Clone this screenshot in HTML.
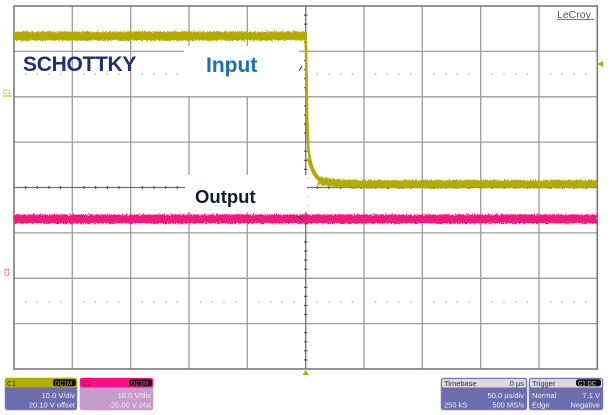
<!DOCTYPE html>
<html><head><meta charset="utf-8"><style>
html,body{margin:0;padding:0;background:#fff;}
svg{display:block;}
text{font-family:"Liberation Sans",Arial,sans-serif;}
</style></head><body>
<svg width="610" height="415" viewBox="0 0 610 415" xmlns="http://www.w3.org/2000/svg">
<defs>
<filter id="nz" filterUnits="userSpaceOnUse" x="0" y="0" width="610" height="415">
<feTurbulence type="fractalNoise" baseFrequency="0.9 0.6" numOctaves="2" seed="3" result="t"/>
<feDisplacementMap in="SourceGraphic" in2="t" scale="5" xChannelSelector="R" yChannelSelector="G"/>
</filter>
</defs>
<rect width="610" height="415" fill="#fff"/>
<!-- grid -->
<g stroke="#9c9c9c" stroke-width="1.3" fill="none">
<line x1="72.3" y1="6" x2="72.3" y2="369"/>
<line x1="130.7" y1="6" x2="130.7" y2="369"/>
<line x1="189" y1="6" x2="189" y2="369"/>
<line x1="247.3" y1="6" x2="247.3" y2="369"/>
<line x1="364" y1="6" x2="364" y2="369"/>
<line x1="422.3" y1="6" x2="422.3" y2="369"/>
<line x1="480.7" y1="6" x2="480.7" y2="369"/>
<line x1="539" y1="6" x2="539" y2="369"/>
<line x1="14" y1="51.4" x2="597" y2="51.4"/>
<line x1="14" y1="96.8" x2="597" y2="96.8"/>
<line x1="14" y1="142.1" x2="597" y2="142.1"/>
<line x1="14" y1="232.9" x2="597" y2="232.9"/>
<line x1="14" y1="278.3" x2="597" y2="278.3"/>
<line x1="14" y1="323.6" x2="597" y2="323.6"/>
</g>
<!-- center axes -->
<g stroke="#707070" stroke-width="1.3" fill="none">
<line x1="14" y1="187.5" x2="597" y2="187.5"/>
<line x1="305.7" y1="6" x2="305.7" y2="369"/>
</g>
<g stroke="#555" stroke-width="1.2">
<path d="M25.7,186v3M37.3,186v3M49,186v3M60.6,186v3M84,186v3M95.6,186v3M107.3,186v3M119,186v3M142.3,186v3M154,186v3M165.7,186v3M177.3,186v3M200.7,186v3M212.3,186v3M224,186v3M235.7,186v3M259,186v3M270.7,186v3M282.3,186v3M294,186v3M317.3,186v3M329,186v3M340.7,186v3M352.3,186v3M375.7,186v3M387.3,186v3M399,186v3M410.7,186v3M434,186v3M445.7,186v3M457.3,186v3M469,186v3M492.3,186v3M504,186v3M515.7,186v3M527.3,186v3M550.7,186v3M562.3,186v3M574,186v3M585.7,186v3"/>
<path d="M304,15.1h3.4M304,24.2h3.4M304,33.2h3.4M304,42.3h3.4M304,60.5h3.4M304,69.6h3.4M304,78.6h3.4M304,87.7h3.4M304,105.9h3.4M304,115h3.4M304,124h3.4M304,133.1h3.4M304,151.2h3.4M304,160.3h3.4M304,169.4h3.4M304,178.4h3.4M304,196.6h3.4M304,205.7h3.4M304,214.8h3.4M304,223.8h3.4M304,242h3.4M304,251h3.4M304,260.1h3.4M304,269.2h3.4M304,287.3h3.4M304,296.4h3.4M304,305.5h3.4M304,314.5h3.4M304,332.7h3.4M304,341.8h3.4M304,350.8h3.4M304,359.9h3.4"/>
</g>
<!-- dotted rows -->
<g fill="#b0b0b0">
<g id="dr">
<circle cx="25.7" cy="74" r="0.8"/><circle cx="37.3" cy="74" r="0.8"/><circle cx="49" cy="74" r="0.8"/><circle cx="60.6" cy="74" r="0.8"/>
<circle cx="84" cy="74" r="0.8"/><circle cx="95.6" cy="74" r="0.8"/><circle cx="107.3" cy="74" r="0.8"/><circle cx="119" cy="74" r="0.8"/>
<circle cx="142.3" cy="74" r="0.8"/><circle cx="154" cy="74" r="0.8"/><circle cx="165.7" cy="74" r="0.8"/><circle cx="177.3" cy="74" r="0.8"/>
<circle cx="200.7" cy="74" r="0.8"/><circle cx="212.3" cy="74" r="0.8"/><circle cx="224" cy="74" r="0.8"/><circle cx="235.7" cy="74" r="0.8"/>
<circle cx="259" cy="74" r="0.8"/><circle cx="270.7" cy="74" r="0.8"/><circle cx="282.3" cy="74" r="0.8"/><circle cx="294" cy="74" r="0.8"/>
<circle cx="317.3" cy="74" r="0.8"/><circle cx="329" cy="74" r="0.8"/><circle cx="340.7" cy="74" r="0.8"/><circle cx="352.3" cy="74" r="0.8"/>
<circle cx="375.7" cy="74" r="0.8"/><circle cx="387.3" cy="74" r="0.8"/><circle cx="399" cy="74" r="0.8"/><circle cx="410.7" cy="74" r="0.8"/>
<circle cx="434" cy="74" r="0.8"/><circle cx="445.7" cy="74" r="0.8"/><circle cx="457.3" cy="74" r="0.8"/><circle cx="469" cy="74" r="0.8"/>
<circle cx="492.3" cy="74" r="0.8"/><circle cx="504" cy="74" r="0.8"/><circle cx="515.7" cy="74" r="0.8"/><circle cx="527.3" cy="74" r="0.8"/>
<circle cx="550.7" cy="74" r="0.8"/><circle cx="562.3" cy="74" r="0.8"/><circle cx="574" cy="74" r="0.8"/><circle cx="585.7" cy="74" r="0.8"/>
</g>
<use href="#dr" transform="translate(0,228)"/>
</g>
<!-- white label boxes -->
<rect x="184" y="46" width="115" height="50" fill="#fff"/>
<rect x="185" y="175" width="122" height="37" fill="#fff"/>
<!-- border -->
<rect x="14" y="6" width="583.3" height="363" fill="none" stroke="#7a7a7a" stroke-width="1.6"/>
<!-- yellow waveform -->
<g fill="none" stroke="#b3ab00" filter="url(#nz)">
<path d="M14,36 L305.5,36" stroke-width="9"/>
<path d="M318,180.5 C330,183 345,184 365,184 L597,184" stroke-width="8"/>
</g>
<path d="M305.5,32 L306.2,60 L307.2,120 L308.5,150 C310,163 313,172 318,178 C322,181 326,182 332,183" fill="none" stroke="#b3ab00" stroke-width="2.6"/>
<path d="M309,158 C311,168 314,175 320,180" fill="none" stroke="#b3ab00" stroke-width="4"/>
<!-- pink waveform -->
<path d="M14,219 L597,219" fill="none" stroke="#f5137f" stroke-width="9" filter="url(#nz)"/>
<!-- trigger level marks -->
<path d="M299,71 L302,66" stroke="#333" stroke-width="1"/>
<path d="M297,216 L303,220" stroke="#333" stroke-width="1"/>
<!-- markers -->
<polygon points="597,64 603,61 603,67" fill="#b3ab00"/>
<polygon points="305.7,370 302.5,375 309,375" fill="#b3ab00"/>
<text x="3" y="94" font-size="6" fill="#b3ab00">C1</text>
<line x1="3" y1="96" x2="12" y2="96" stroke="#b3ab00" stroke-width="1"/>
<text x="0" y="0" font-size="6" fill="#f5137f" transform="translate(9,276) rotate(-90)">C2</text>
<!-- labels -->
<text x="23" y="71" font-size="21" font-weight="bold" fill="#1f2f72" letter-spacing="-0.3">SCHOTTKY</text>
<text x="206" y="72" font-size="21" font-weight="bold" fill="#1a6dc0">Input</text>
<text x="195" y="203" font-size="18.5" font-weight="bold" fill="#121a33">Output</text>
<text x="557" y="18" font-size="10.5" fill="#555">LeCroy</text>
<line x1="557" y1="19.5" x2="594" y2="19.5" stroke="#555" stroke-width="0.8"/>
<!-- bottom panels -->
<g font-size="7.5">
<!-- C1 -->
<rect x="5" y="378" width="72" height="32" rx="2.5" fill="#6d6dad" stroke="#8a8ac0" stroke-width="0.6"/>
<rect x="5" y="378" width="72" height="9.5" rx="2" fill="#b5ad00"/>
<text x="7" y="386" fill="#333" font-size="7">C1</text>
<rect x="53" y="379.3" width="23" height="7" rx="2.5" fill="#111"/>
<text x="55" y="385.5" fill="#c8b800" font-size="6">DC1M</text>
<text x="75" y="398" fill="#eeeef8" text-anchor="end">10.0 V/div</text>
<text x="75" y="407.5" fill="#eeeef8" text-anchor="end">20.10 V offset</text>
<!-- C2 -->
<rect x="80" y="378" width="73" height="32" rx="2.5" fill="#c89bcd" stroke="#b99ac8" stroke-width="0.6"/>
<rect x="80" y="378" width="73" height="9.5" rx="2" fill="#ff0d86"/>
<text x="82" y="386" fill="#8a2060" font-size="7">C2</text>
<rect x="129" y="379.3" width="23" height="7" rx="2.5" fill="#111"/>
<text x="131" y="385.5" fill="#ff4aa0" font-size="6">DC1M</text>
<text x="151" y="398" fill="#f4eaf6" text-anchor="end">10.0 V/div</text>
<text x="151" y="407.5" fill="#f4eaf6" text-anchor="end">-20.00 V ofst</text>
<!-- Timebase -->
<rect x="441" y="378" width="86" height="32" rx="2.5" fill="#6d6dad" stroke="#8a8ac0" stroke-width="0.6"/>
<rect x="442" y="379" width="84" height="8.5" rx="1.5" fill="#d9d9de"/>
<text x="444" y="386" fill="#333">Timebase</text>
<text x="524" y="386" fill="#333" text-anchor="end">0 µs</text>
<text x="524" y="398" fill="#eeeef8" text-anchor="end">50.0 µs/div</text>
<text x="444" y="407.5" fill="#eeeef8">250 kS</text>
<text x="524" y="407.5" fill="#eeeef8" text-anchor="end">500 MS/s</text>
<!-- Trigger -->
<rect x="529" y="378" width="74" height="32" rx="2.5" fill="#6d6dad" stroke="#8a8ac0" stroke-width="0.6"/>
<rect x="530" y="379" width="72" height="8.5" rx="1.5" fill="#d9d9de"/>
<text x="532" y="386" fill="#333">Trigger</text>
<rect x="576" y="379.3" width="25" height="7" rx="2.5" fill="#111"/>
<text x="578" y="385.5" fill="#ddd" font-size="6">C1 DC</text>
<text x="532" y="398" fill="#eeeef8">Normal</text>
<text x="600" y="398" fill="#eeeef8" text-anchor="end">7.1 V</text>
<text x="532" y="407.5" fill="#eeeef8">Edge</text>
<text x="600" y="407.5" fill="#eeeef8" text-anchor="end">Negative</text>
</g>
</svg>
</body></html>
